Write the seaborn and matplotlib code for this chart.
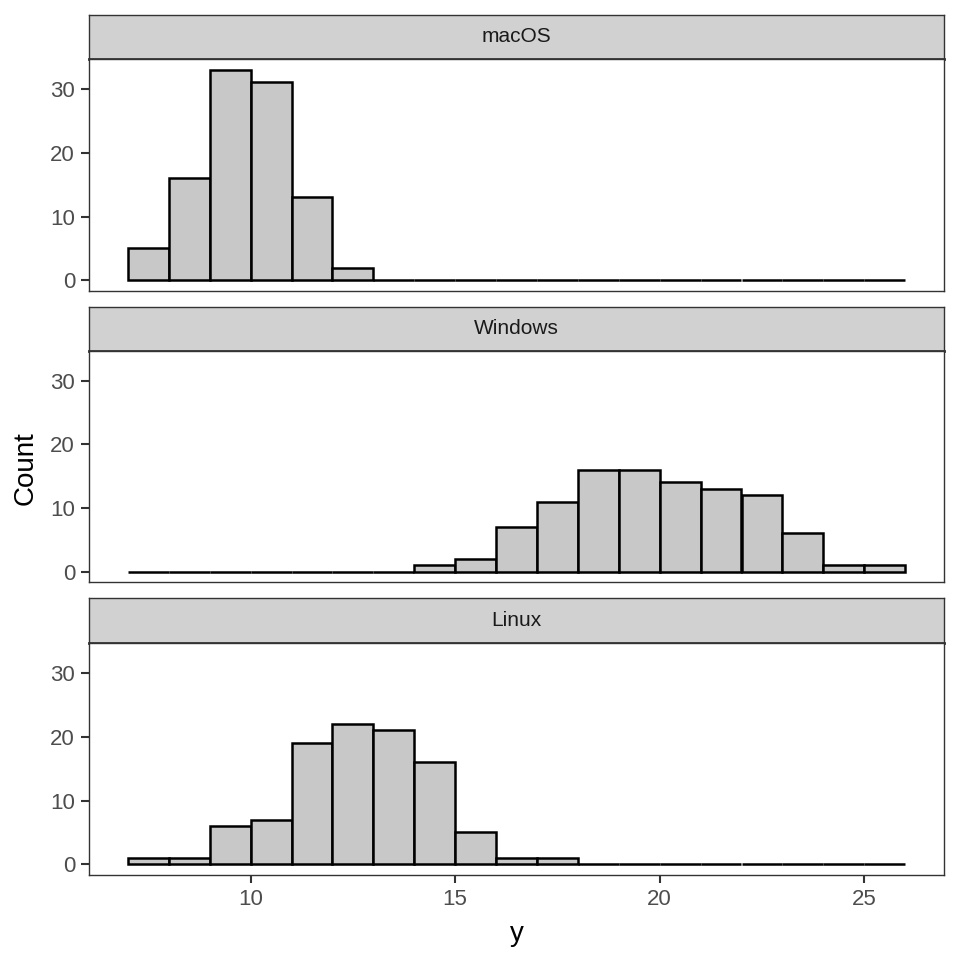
import numpy as np
import pandas as pd
import matplotlib
matplotlib.use("Agg")
import matplotlib.pyplot as plt
import seaborn as sns

# histogram bins (width 1, from 7 to 26)
bin_edges = list(range(7, 27))
panels = ["macOS", "Windows", "Linux"]
macos_counts = [5, 16, 33, 31, 13, 2, 0, 0, 0, 0, 0, 0, 0, 0, 0, 0, 0, 0, 0]
windows_counts = [0, 0, 0, 0, 0, 0, 0, 1, 2, 7, 11, 16, 16, 14, 13, 12, 6, 1, 1]
linux_counts = [1, 1, 6, 7, 19, 22, 21, 16, 5, 1, 1, 0, 0, 0, 0, 0, 0, 0, 0]
x_ticks = [10, 15, 20, 25]
y_ticks = [0, 10, 20, 30]

centers = [e + 0.5 for e in bin_edges[:-1]]
rows = []
for name, counts in zip(panels, [macos_counts, windows_counts, linux_counts]):
    for c, n in zip(centers, counts):
        rows.append({"os": name, "y": c, "n": n})
df = pd.DataFrame(rows)

sns.set_style("white")
plt.rcParams["font.family"] = ["Liberation Sans", "DejaVu Sans"]

fig = plt.figure(figsize=(9.6, 9.6), dpi=100)
H = 960.0
left = 89 / H
width = (944 - 89) / H
# (strip top, strip bottom, plot bottom) in pixels
layout = [(15, 59, 291), (307, 351, 582), (598, 643, 875)]

axes = []
for i, (name, (s_top, s_bot, p_bot)) in enumerate(zip(panels, layout)):
    sax = fig.add_axes([left, 1 - s_bot / H, width, (s_bot - s_top) / H])
    sax.set_facecolor("#D1D1D1")
    sax.set_xticks([])
    sax.set_yticks([])
    for sp in sax.spines.values():
        sp.set_color("#333333")
        sp.set_linewidth(1.0)
    sax.spines["bottom"].set_linewidth(2.0)
    sax.text(0.5, 0.5, name, ha="center", va="center", fontsize=15,
             color="#1A1A1A", transform=sax.transAxes)

    ax = fig.add_axes([left, 1 - p_bot / H, width, (p_bot - s_bot) / H])
    sub = df[df["os"] == name]
    sns.histplot(data=sub, x="y", weights="n", bins=bin_edges,
                 color="#C8C8C8", edgecolor="black", linewidth=1.8,
                 alpha=1, ax=ax)
    ax.set_xlim(6.05, 26.95)
    ax.set_ylim(-1.65, 34.65)
    ax.set_yticks(y_ticks)
    ax.set_xticks(x_ticks)
    ax.tick_params(axis="both", labelsize=16, colors="#333333",
                   labelcolor="#4D4D4D", length=6, width=1.5, pad=4,
                   left=True, bottom=(i == 2))
    if i < 2:
        ax.set_xticklabels([])
    for sp in ax.spines.values():
        sp.set_color("#333333")
        sp.set_linewidth(1.0)
    ax.set_xlabel("")
    ax.set_ylabel("")
    axes.append(ax)

axes[2].set_xlabel("y", fontsize=20, color="black", labelpad=8)
fig.text(26 / H, 1 - 468 / H, "Count", rotation=90, ha="center",
         va="center", fontsize=20, color="black")

fig.savefig("out.png", dpi=100)
